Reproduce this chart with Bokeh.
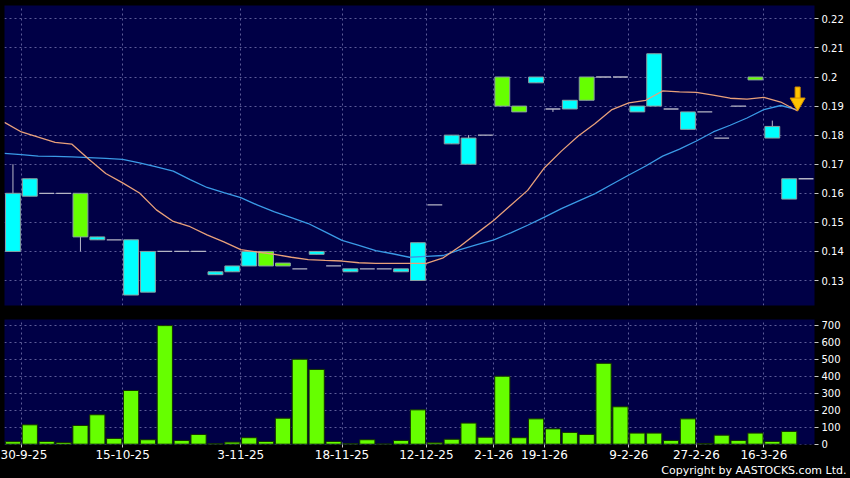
from bokeh.plotting import figure
from bokeh.layouts import column
from bokeh.models import FixedTicker, Title, ColumnDataSource, Range1d, GlobalInlineStyleSheet
from bokeh.embed import file_html
from bokeh.resources import INLINE

# ---------------- data ----------------
tick_idx = [0, 6, 13, 19, 24, 28, 31, 36, 40, 44]
tick_labels = ["30-9-25", "15-10-25", "3-11-25", "18-11-25", "12-12-25",
               "2-1-26", "19-1-26", "9-2-26", "27-2-26", "16-3-26"]

opens = [0.140, 0.159, 0.160, 0.160, 0.160, 0.144, 0.144, 0.125, 0.126, 0.140,
         0.140, 0.140, 0.132, 0.133, 0.135, 0.140, 0.136, 0.134, 0.139, 0.135,
         0.133, 0.134, 0.134, 0.133, 0.130, 0.156, 0.177, 0.170, 0.180, 0.200,
         0.190, 0.198, 0.189, 0.189, 0.200, 0.200, 0.200, 0.188, 0.190, 0.189,
         0.182, 0.188, 0.179, 0.190, 0.200, 0.179, 0.158]
highs = [0.170, 0.165, 0.160, 0.160, 0.160, 0.145, 0.144, 0.144, 0.140, 0.140,
         0.140, 0.140, 0.133, 0.135, 0.140, 0.140, 0.136, 0.134, 0.140, 0.135,
         0.134, 0.134, 0.134, 0.134, 0.143, 0.156, 0.180, 0.180, 0.180, 0.200,
         0.190, 0.200, 0.189, 0.192, 0.200, 0.200, 0.200, 0.190, 0.208, 0.189,
         0.188, 0.188, 0.179, 0.190, 0.200, 0.185, 0.165]
lows = [0.140, 0.159, 0.160, 0.160, 0.140, 0.144, 0.144, 0.125, 0.126, 0.140,
        0.140, 0.140, 0.132, 0.133, 0.135, 0.135, 0.135, 0.134, 0.139, 0.135,
        0.133, 0.134, 0.134, 0.133, 0.130, 0.156, 0.177, 0.170, 0.180, 0.190,
        0.188, 0.198, 0.188, 0.189, 0.192, 0.200, 0.200, 0.188, 0.190, 0.189,
        0.182, 0.188, 0.179, 0.190, 0.199, 0.179, 0.158]
closes = [0.160, 0.165, 0.160, 0.160, 0.145, 0.145, 0.144, 0.144, 0.140, 0.140,
          0.140, 0.140, 0.133, 0.135, 0.140, 0.135, 0.135, 0.134, 0.140, 0.135,
          0.134, 0.134, 0.134, 0.134, 0.143, 0.156, 0.180, 0.179, 0.180, 0.190,
          0.188, 0.200, 0.189, 0.192, 0.192, 0.200, 0.200, 0.190, 0.208, 0.189,
          0.188, 0.188, 0.179, 0.190, 0.199, 0.183, 0.165]
volumes = [15, 114, 16, 10, 110, 173, 34, 316, 26, 698,
           22, 57, 2, 12, 38, 16, 153, 500, 440, 16,
           2, 26, 1, 22, 202, 8, 29, 124, 41, 400,
           38, 149, 90, 69, 57, 476, 220, 65, 65, 22,
           149, 4, 53, 22, 65, 16, 75]
# moving averages: one value per session, starting one session before the first candle
ma10 = [0.1844, 0.1811, 0.1793, 0.1775, 0.1769, 0.1717, 0.1668, 0.1636, 0.1601, 0.1543,
        0.1503, 0.1485, 0.1457, 0.1433, 0.1406, 0.1398, 0.1390, 0.1380, 0.1372, 0.1369,
        0.1367, 0.1361, 0.1359, 0.1359, 0.1359, 0.1359, 0.1378, 0.1418, 0.1463, 0.1507,
        0.1559, 0.1610, 0.1688, 0.1745, 0.1797, 0.1840, 0.1888, 0.1911, 0.1920, 0.1952,
        0.1949, 0.1947, 0.1938, 0.1927, 0.1924, 0.1930, 0.1914, 0.1883]
ma20 = [0.1737, 0.1733, 0.1728, 0.1727, 0.1725, 0.1723, 0.1720, 0.1717, 0.1705, 0.1691,
        0.1676, 0.1647, 0.1620, 0.1602, 0.1585, 0.1559, 0.1536, 0.1516, 0.1496, 0.1467,
        0.1438, 0.1421, 0.1403, 0.1392, 0.1380, 0.1383, 0.1386, 0.1406, 0.1423, 0.1440,
        0.1464, 0.1490, 0.1518, 0.1547, 0.1573, 0.1599, 0.1631, 0.1663, 0.1694, 0.1728,
        0.1752, 0.1780, 0.1811, 0.1834, 0.1859, 0.1888, 0.1902, 0.1887]
price_ticks = [0.13, 0.14, 0.15, 0.16, 0.17, 0.18, 0.19, 0.20, 0.21, 0.22]
price_tick_labels = ["0.13", "0.14", "0.15", "0.16", "0.17", "0.18", "0.19", "0.2", "0.21", "0.22"]
vol_ticks = [0, 100, 200, 300, 400, 500, 600, 700]

# ---------------- styling ----------------
W = 850
LB = 4
RB = 36
P_TOP = 5
P_FRAME = 300
P_GAP = 7
P_H = P_TOP + P_FRAME + P_GAP
V_TOP = 7
V_FRAME = 125
V_BOTTOM = 34
V_H = V_TOP + V_FRAME + V_BOTTOM
P_LO, P_HI = 0.1214, 0.2246

BG = "#000000"
PLOT_BG = "#000046"
GRID = "#5c5c98"
CYAN = "#00FFFF"
LIME = "#66FF00"
OUTLINE = "#8aa0a0"
DOJI = "#b4b4c4"
WICK = "#b8b8c8"
FONT = "DejaVu Sans"

n = len(closes)
xs = list(range(n))
ma_x = [i - 0.5 for i in range(len(ma10))]
grid_x = [i + 0.5 for i in tick_idx]

x_range = Range1d(-0.5, n + 0.5)


def style_axis(ax, size):
    ax.axis_line_color = None
    ax.major_tick_line_color = "#c8c8c8"
    ax.major_tick_in = 0
    ax.major_tick_out = 4
    ax.minor_tick_line_color = None
    ax.major_label_text_color = "#ffffff"
    ax.major_label_text_font = FONT
    ax.major_label_text_font_size = size
    ax.major_label_standoff = 3


def style_grid(fig):
    for g in (fig.xgrid, fig.ygrid):
        g.grid_line_color = GRID
        g.grid_line_dash = "2 3"
        g.grid_line_width = 1
    fig.xgrid.ticker = FixedTicker(ticks=grid_x)


# ---------------- price panel ----------------
p = figure(width=W, height=P_H, x_range=x_range, y_range=Range1d(P_LO, P_HI),
           output_backend="svg", toolbar_location=None,
           x_axis_location=None, y_axis_location="right",
           min_border_left=LB, min_border_right=RB, min_border_top=P_TOP, min_border_bottom=P_GAP,
           background_fill_color=PLOT_BG, border_fill_color=BG, outline_line_color=None)
style_grid(p)
p.ygrid.ticker = FixedTicker(ticks=price_ticks)
p.yaxis.ticker = FixedTicker(ticks=price_ticks)
p.yaxis.major_label_overrides = dict(zip(price_ticks, price_tick_labels))
style_axis(p.yaxis, "10px")

# wicks
p.segment(x0=xs, y0=lows, x1=xs, y1=highs, line_color=WICK, line_width=1)

# bodies
bx, btop, bbot, bcol = [], [], [], []
dx, dy = [], []
for i in range(n):
    o, c = opens[i], closes[i]
    if c > o:
        bx.append(i); btop.append(c); bbot.append(o); bcol.append(CYAN)
    elif c < o:
        bx.append(i); btop.append(o); bbot.append(c); bcol.append(LIME)
    else:
        dx.append(i); dy.append(c)
p.vbar(x="x", top="top", bottom="bottom", width=0.88, fill_color="color",
       line_color=OUTLINE, line_width=1,
       source=ColumnDataSource(dict(x=bx, top=btop, bottom=bbot, color=bcol)))
half = 0.44
p.segment(x0=[x - half for x in dx], x1=[x + half for x in dx], y0=dy, y1=dy,
          line_color=DOJI, line_width=1.3)
# last price marker
p.segment(x0=[n - half], x1=[n + half], y0=[closes[-1]], y1=[closes[-1]],
          line_color=DOJI, line_width=1.3)

# moving averages
p.line(ma_x, ma20, line_color="#3a9ae6", line_width=1.3)
p.line(ma_x, ma10, line_color="#e8a07a", line_width=1.3)

# arrow signal at the last MA point
ppu = P_FRAME / (P_HI - P_LO)
tip_x = ma_x[-1]
tip_y = ma10[-1]
head_size = 15
head_h = head_size * 0.866
p.rect(x=[tip_x], y=[tip_y + (head_h + 5) / ppu], width=5, height=12,
       width_units="screen", height_units="screen",
       fill_color="#ffc400", line_color="#d89000", line_width=1)
p.scatter(x=[tip_x], y=[tip_y + head_size * 0.577 / ppu], marker="inverted_triangle",
          size=head_size, fill_color="#ffc400", line_color="#d89000", line_width=1)

# ---------------- volume panel ----------------
v = figure(width=W, height=V_H, x_range=x_range, y_range=Range1d(-2, 734),
           output_backend="svg", toolbar_location=None,
           x_axis_location="below", y_axis_location="right",
           min_border_left=LB, min_border_right=RB, min_border_top=V_TOP, min_border_bottom=V_BOTTOM,
           background_fill_color=PLOT_BG, border_fill_color=BG, outline_line_color=None)
style_grid(v)
v.ygrid.ticker = FixedTicker(ticks=vol_ticks)
v.yaxis.ticker = FixedTicker(ticks=vol_ticks)
style_axis(v.yaxis, "10px")
v.xaxis.ticker = FixedTicker(ticks=grid_x)
v.xaxis.major_label_overrides = dict(zip(grid_x, tick_labels))
style_axis(v.xaxis, "12px")
v.xaxis.major_tick_out = 3
v.xaxis.major_label_standoff = 2

v.vbar(x=xs, top=volumes, bottom=0, width=0.9, fill_color=LIME,
       line_color="#143000", line_width=1)

v.add_layout(Title(text="Copyright by AASTOCKS.com Ltd.", align="right",
                   text_color="#ffffff", text_font=FONT, text_font_size="11px",
                   text_font_style="normal", standoff=0, offset=-32), "below")

layout = column(p, v, spacing=0,
                stylesheets=[GlobalInlineStyleSheet(css="body{background:#000000;}")])

open("out.html", "w").write(file_html(layout, INLINE))
